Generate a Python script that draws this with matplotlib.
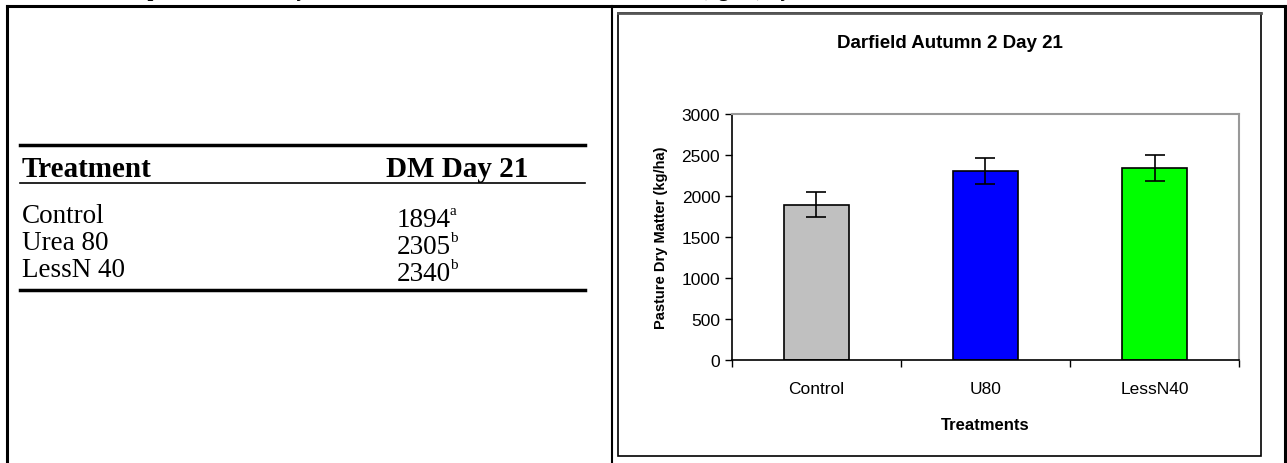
import matplotlib.pyplot as plt
import numpy as np

# chart data
treatments = ['Control', 'U80', 'LessN40']
dm_day21 = [1894, 2305, 2340]
dm_err = [150, 160, 160]
bar_colors = ['#c0c0c0', '#0000ff', '#00ff00']

# table data
table_names = ['Control', 'Urea 80', 'LessN 40']
table_values = ['1894', '2305', '2340']
table_letters = ['a', 'b', 'b']

W, H = 1287, 464
fig = plt.figure(figsize=(W / 100, H / 100), dpi=100)

# background axes in pixel coords for the document table
bg = fig.add_axes([0, 0, 1, 1])
bg.set_xlim(0, W)
bg.set_ylim(H, 0)
bg.axis('off')

serif = 'Liberation Serif'
sans = 'Liberation Sans'

# caption of the page, cut off at the top edge
bg.text(130, -4, 'mparison of the dry matter', fontsize=15, fontweight='bold',
        family=serif, va='baseline', ha='left', clip_on=False)
bg.text(700, -4, '(kg/ha) by', fontsize=15, fontweight='bold',
        family=serif, va='baseline', ha='left', clip_on=False)

# outer table borders
bg.plot([7, 1285], [7, 7], color='black', lw=2.2)
bg.plot([7, 7], [7, H], color='black', lw=2.2)
bg.plot([1285, 1285], [7, H], color='black', lw=2.2)
bg.plot([612, 612], [7, H], color='black', lw=1.5)

# left table
bg.plot([20, 585], [146, 146], color='black', lw=2.5)
bg.plot([20, 585], [184, 184], color='black', lw=1.2)
bg.plot([20, 585], [291, 291], color='black', lw=2.5)
bg.text(22, 177, 'Treatment', fontsize=21, fontweight='bold', family=serif,
        va='baseline', ha='left')
bg.text(457, 177, 'DM Day 21', fontsize=21, fontweight='bold', family=serif,
        va='baseline', ha='center')
for i, (nm, v, l) in enumerate(zip(table_names, table_values, table_letters)):
    yb = 223 + i * 27
    bg.text(22, yb, nm, fontsize=19.5, family=serif, va='baseline', ha='left')
    bg.text(397, yb + 4, v, fontsize=19.5, family=serif, va='baseline', ha='left')
    bg.text(450, yb - 8, l, fontsize=11, family=serif, va='baseline', ha='left')

# chart frame
bg.add_patch(plt.Rectangle((618, 14), 1261 - 618, 457 - 14, fill=False,
                           edgecolor='black', lw=1.2))
bg.plot([618, 1261], [14, 14], color='#555555', lw=2)
bg.text(950, 43, 'Darfield Autumn 2 Day 21', fontsize=13.5, fontweight='bold',
        family=sans, ha='center', va='center')

# plot area
ax = fig.add_axes([732 / W, 1 - 361 / H, (1239 - 732) / W, (361 - 115) / H])
x = np.arange(len(treatments))
ax.bar(x, dm_day21, width=0.39, color=bar_colors, edgecolor='black', lw=1.2,
       yerr=dm_err, capsize=7, error_kw=dict(elinewidth=1.2, capthick=1.2))
ax.set_xlim(-0.5, 2.5)
ax.set_ylim(0, 3000)
ax.set_yticks(np.arange(0, 3001, 500))
ax.set_xticks(x)
ax.set_xticklabels(treatments, fontsize=12.5, family=sans)
ax.tick_params(axis='x', length=0, pad=15)
ax.set_xticks([-0.5, 0.5, 1.5, 2.5], minor=True)
ax.tick_params(axis='x', which='minor', length=5, width=1, direction='out')
ax.tick_params(axis='y', length=5, width=1, direction='out', labelsize=12.5)
for t in ax.get_yticklabels():
    t.set_family(sans)
ax.spines['left'].set_linewidth(1.2)
ax.spines['bottom'].set_linewidth(1.2)
ax.spines['top'].set_color('#999999')
ax.spines['right'].set_color('#999999')
ax.spines['top'].set_linewidth(1.5)
ax.spines['right'].set_linewidth(1.5)
ax.set_xlabel('Treatments', fontsize=12, fontweight='bold', family=sans,
              labelpad=15)
ax.set_ylabel('Pasture Dry Matter (kg/ha)', fontsize=10.5, fontweight='bold',
              family=sans, labelpad=10)

fig.savefig('out.png', dpi=100)
